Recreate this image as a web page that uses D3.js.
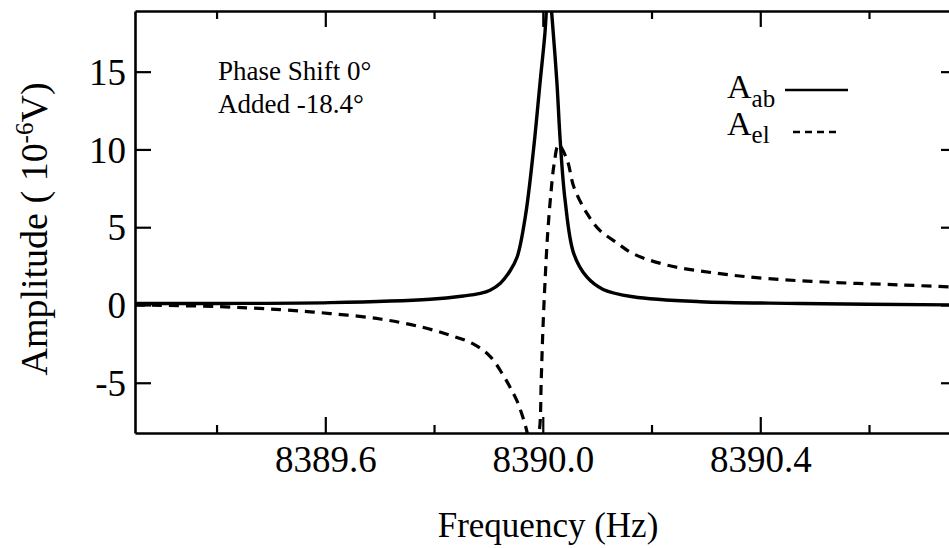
<!DOCTYPE html>
<html>
<head>
<meta charset="utf-8">
<script src="https://cdn.jsdelivr.net/npm/d3@7"></script>
<style>
  html, body { margin: 0; padding: 0; background: #fff; }
  svg text { font-family: "Liberation Serif", "Times New Roman", Times, serif !important; fill: #000; }
</style>
</head>
<body>
<svg id="chart" width="949" height="548"></svg>
<script>
// ---- data ----
const freqAb = [8389.25, 8389.40, 8389.609, 8389.793, 8389.854, 8389.885, 8389.903, 8389.922, 8389.940,
  8389.953, 8389.968, 8389.983, 8389.995, 8390.004, 8390.011, 8390.017, 8390.026, 8390.032, 8390.041,
  8390.057, 8390.081, 8390.111, 8390.166, 8390.29, 8390.473, 8390.76];
const ampAb = [0.10, 0.10, 0.15, 0.37, 0.58, 0.75, 0.95, 1.4, 2.2,
  3.1, 5.7, 10.0, 14.3, 17.5, 21.0, 18.5, 14.3, 10.6, 6.75,
  3.3, 1.8, 1.0, 0.53, 0.21, 0.10, 0.0];

const freqEl = [8389.25, 8389.40, 8389.517, 8389.609, 8389.701, 8389.775, 8389.830, 8389.872, 8389.903,
  8389.927, 8389.940, 8389.953, 8389.965, 8389.972, 8389.983, 8389.994, 8389.997, 8390.000, 8390.004,
  8390.009, 8390.015, 8390.021, 8390.029, 8390.045, 8390.057, 8390.081, 8390.105, 8390.136, 8390.166,
  8390.228, 8390.320, 8390.412, 8390.534, 8390.658, 8390.76];
const ampEl = [0.0, -0.1, -0.3, -0.55, -0.9, -1.4, -1.95, -2.5, -3.3,
  -4.5, -5.3, -6.2, -7.4, -8.3, -10.0, -8.0, -5.0, -1.8, 1.4,
  4.6, 7.2, 9.1, 10.3, 9.3, 7.6, 5.9, 4.8, 4.0, 3.3,
  2.57, 2.04, 1.7, 1.45, 1.29, 1.15];

const xMajorTicks = [8389.6, 8390.0, 8390.4];
const xTickLabels = ["8389.6", "8390.0", "8390.4"];
const xMinorTicks = [8389.4, 8389.8, 8390.2, 8390.6];
const yTicks = [-5, 0, 5, 10, 15];
const yTickLabels = ["-5", "0", "5", "10", "15"];
const annotation = ["Phase Shift 0°", "Added -18.4°"];

// ---- layout ----
const FONT = "'Liberation Serif', 'Times New Roman', Times, serif";
const svg = d3.select("#chart");
const L = 135, R = 956, T = 11, B = 433;
const x = d3.scaleLinear().domain([8389.25, 8390.76]).range([L, R]);
const y = d3.scaleLinear().domain([-8.23, 18.9]).range([B, T]);

svg.append("defs").append("clipPath").attr("id", "plotclip")
  .append("rect").attr("x", L).attr("y", T).attr("width", R - L).attr("height", B - T);

// curves
const line = d3.line().x(d => x(d[0])).y(d => y(d[1])).curve(d3.curveCatmullRom.alpha(0.5));
const abData = freqAb.map((f, i) => [f, ampAb[i]]);
const elData = freqEl.map((f, i) => [f, ampEl[i]]);

const plot = svg.append("g").attr("clip-path", "url(#plotclip)");
plot.append("path").datum(elData).attr("d", line)
  .attr("fill", "none").attr("stroke", "#000").attr("stroke-width", 3.2)
  .attr("stroke-dasharray", "10,7");
plot.append("path").datum(abData).attr("d", line)
  .attr("fill", "none").attr("stroke", "#000").attr("stroke-width", 3.4);

// axes
function styleAxis(g) {
  g.attr("font-family", FONT);
  g.selectAll("path.domain").attr("stroke", "#000").attr("stroke-width", 2.6);
  g.selectAll(".tick line").attr("stroke", "#000").attr("stroke-width", 2.2);
  g.selectAll("text").style("font-family", FONT).attr("font-size", 37).attr("fill", "#000");
}

// bottom major with labels
const bottomMajor = svg.append("g").attr("transform", `translate(0,${B})`)
  .call(d3.axisBottom(x).tickValues(xMajorTicks).tickFormat((d, i) => xTickLabels[i])
    .tickSize(-16).tickSizeOuter(0).tickPadding(14));
styleAxis(bottomMajor);
bottomMajor.selectAll("text").attr("dy", null).attr("y", 39);
svg.append("g").attr("transform", `translate(0,${B})`)
  .call(d3.axisBottom(x).tickValues(xMinorTicks).tickFormat("").tickSize(-8).tickSizeOuter(0))
  .call(styleAxis).select("path.domain").remove();

// top
const topMajor = svg.append("g").attr("transform", `translate(0,${T})`)
  .call(d3.axisTop(x).tickValues(xMajorTicks).tickFormat("").tickSize(-16).tickSizeOuter(0));
styleAxis(topMajor);
svg.append("g").attr("transform", `translate(0,${T})`)
  .call(d3.axisTop(x).tickValues(xMinorTicks).tickFormat("").tickSize(-8).tickSizeOuter(0))
  .call(styleAxis).select("path.domain").remove();

// left
const leftAx = svg.append("g").attr("transform", `translate(${L},0)`)
  .call(d3.axisLeft(y).tickValues(yTicks).tickFormat((d, i) => yTickLabels[i])
    .tickSize(-16).tickSizeOuter(0).tickPadding(9));
styleAxis(leftAx);
leftAx.selectAll("text").attr("dy", "0.34em");

// right
svg.append("g").attr("transform", `translate(${R},0)`)
  .call(d3.axisRight(y).tickValues(yTicks).tickFormat("").tickSize(-15).tickSizeOuter(0))
  .call(styleAxis);

// axis titles
svg.append("text").attr("x", 548).attr("y", 537).attr("text-anchor", "middle")
  .attr("font-size", 35).text("Frequency (Hz)");

const yt = svg.append("text").attr("transform", "translate(47,229) rotate(-90)")
  .attr("text-anchor", "middle").attr("font-size", 38);
yt.append("tspan").text("Amplitude ( 10");
yt.append("tspan").attr("dy", -14).attr("font-size", 25).text("-6");
yt.append("tspan").attr("dy", 14).text("V)");

// annotation
svg.append("text").attr("x", 218).attr("y", 80).attr("font-size", 27).text(annotation[0]);
svg.append("text").attr("x", 218).attr("y", 113).attr("font-size", 27).text(annotation[1]);

// legend
const lg = svg.append("g");
const t1 = lg.append("text").attr("x", 727).attr("y", 98).attr("font-size", 34);
t1.append("tspan").text("A");
t1.append("tspan").attr("dy", 9).attr("font-size", 25).text("ab");
lg.append("line").attr("x1", 785).attr("x2", 848).attr("y1", 90).attr("y2", 90)
  .attr("stroke", "#000").attr("stroke-width", 2.6);
const t2 = lg.append("text").attr("x", 727).attr("y", 135).attr("font-size", 34);
t2.append("tspan").text("A");
t2.append("tspan").attr("dy", 8).attr("font-size", 25).text("el");
lg.append("line").attr("x1", 793).attr("x2", 840).attr("y1", 132).attr("y2", 132)
  .attr("stroke", "#000").attr("stroke-width", 2.6).attr("stroke-dasharray", "7,5");
</script>
</body>
</html>
